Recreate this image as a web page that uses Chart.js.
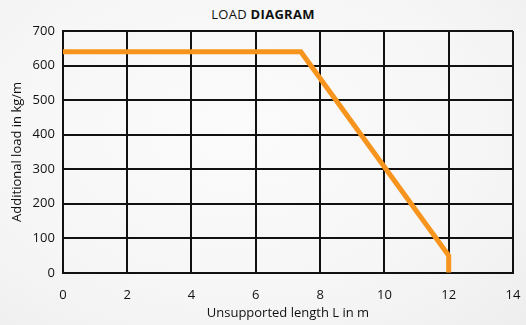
<!DOCTYPE html>
<html>
<head>
<meta charset="utf-8">
<script src="https://cdn.jsdelivr.net/npm/chart.js@4"></script>
<style>
  html, body { margin: 0; padding: 0; }
  body {
    width: 526px; height: 325px; overflow: hidden; position: relative;
    background: radial-gradient(ellipse at 45% 40%, #fbfbfb 0%, #f6f6f6 60%, #eeeeee 100%);
    font-family: "Open Sans", sans-serif;
  }
  #title {
    position: absolute; top: 5px; left: 0; width: 526px; text-align: center;
    font-size: 13px; color: #111; letter-spacing: 0.3px;
  }
  #title b { font-weight: 700; }
  #wrap { position: absolute; left: 0; top: 0; width: 526px; height: 325px; }
</style>
</head>
<body>
<div id="title">LOAD <b>DIAGRAM</b></div>
<div id="wrap"><canvas id="load-chart"></canvas></div>
<script>
// unsupported length (m) and allowed additional load (kg/m)
const lengthM = [0, 7.4, 12, 12];
const loadKg = [640, 640, 50, 0];
const xTicks = [0, 2, 4, 6, 8, 10, 12, 14];
const yTicks = [0, 100, 200, 300, 400, 500, 600, 700];

const ctx = document.getElementById('load-chart').getContext('2d');

new Chart(ctx, {
    type: 'scatter',
    data: {
        datasets: [{
            label: 'Load',
            data: lengthM.map((x, i) => ({ x: x, y: loadKg[i] })),
            showLine: true,
            borderColor: '#f7941d',
            borderWidth: 5,
            pointRadius: 0,
            fill: false,
            tension: 0,
            borderJoinStyle: 'miter',
            borderCapStyle: 'butt'
        }]
    },
    options: {
        responsive: true,
        maintainAspectRatio: false,
        animation: false,
        layout: { padding: { top: 31, right: 13, left: 9, bottom: 4 } },
        plugins: {
            legend: { display: false },
            tooltip: { enabled: false }
        },
        scales: {
            x: {
                type: 'linear',
                min: 0, max: 14,
                afterBuildTicks: axis => { axis.ticks = xTicks.map(v => ({ value: v })); },
                // keep the "14" label overhang from shrinking the plot
                afterFit: axis => { axis.paddingRight = 0; },
                grid: { color: '#111', lineWidth: 2, drawTicks: false },
                border: { color: '#111', width: 2 },
                ticks: { color: '#111', font: { family: 'Open Sans', size: 13 }, padding: 15 },
                title: {
                    display: true, text: 'Unsupported length L in m', color: '#111',
                    font: { family: 'Open Sans', size: 13 }, padding: { top: -13, bottom: 0 }
                }
            },
            y: {
                min: 0, max: 700,
                afterBuildTicks: axis => { axis.ticks = yTicks.map(v => ({ value: v })); },
                grid: { color: '#111', lineWidth: 2, drawTicks: false },
                border: { color: '#111', width: 2 },
                ticks: { color: '#111', font: { family: 'Open Sans', size: 13 }, padding: 8 },
                title: {
                    display: true, text: 'Additional load in kg/m', color: '#111',
                    font: { family: 'Open Sans', size: 13 }, padding: { top: 0, bottom: 0 }
                }
            }
        }
    }
});
</script>
</body>
</html>
